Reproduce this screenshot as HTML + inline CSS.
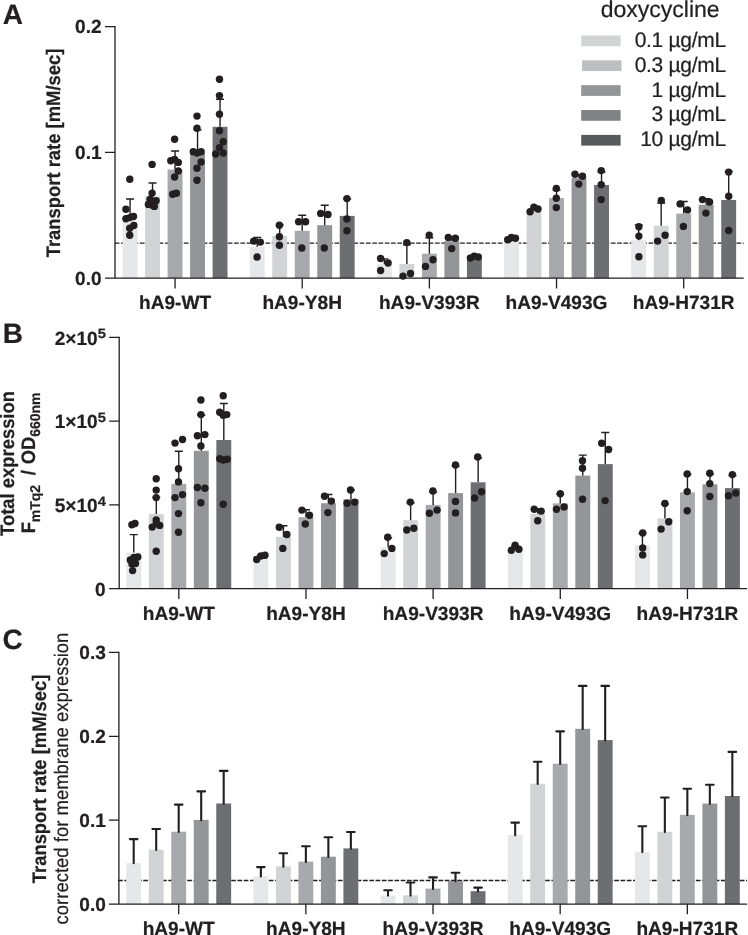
<!DOCTYPE html>
<html lang="en">
<head>
<meta charset="utf-8">
<title>Figure: transport rate and expression of hA9 variants</title>
<style>html,body{margin:0;padding:0;background:#fff}svg{display:block}text{stroke:#231f20;stroke-width:.22px;text-rendering:geometricPrecision}</style>
</head>
<body>
<svg width="748" height="935" viewBox="0 0 748 935" style="will-change:transform" stroke-linejoin="round" font-family='"Liberation Sans", sans-serif' fill="#231f20">
<rect width="748" height="935" fill="#fff"/>
<g id="panelA">
<path d="M114.75 243.1H743.7" fill="none" stroke="#231f20" stroke-width="1.35" stroke-dasharray="4.7 1.58"/>
<rect x="122.60" y="221" width="14.9" height="57.20" fill="#e6e7e8"/>
<rect x="145.10" y="196.5" width="14.9" height="81.70" fill="#d1d3d4"/>
<rect x="167.60" y="169.5" width="14.9" height="108.70" fill="#a7a9ac"/>
<rect x="190.10" y="152.5" width="14.9" height="125.70" fill="#939598"/>
<rect x="212.60" y="126.8" width="14.9" height="151.40" fill="#6d6e71"/>
<rect x="249.76" y="246.7" width="14.9" height="31.50" fill="#e6e7e8"/>
<rect x="272.26" y="235.9" width="14.9" height="42.30" fill="#d1d3d4"/>
<rect x="294.76" y="230.8" width="14.9" height="47.40" fill="#a7a9ac"/>
<rect x="317.26" y="225.2" width="14.9" height="53.00" fill="#939598"/>
<rect x="339.76" y="215.9" width="14.9" height="62.30" fill="#6d6e71"/>
<rect x="376.92" y="264.1" width="14.9" height="14.10" fill="#e6e7e8"/>
<rect x="399.42" y="264.1" width="14.9" height="14.10" fill="#d1d3d4"/>
<rect x="421.92" y="253.7" width="14.9" height="24.50" fill="#a7a9ac"/>
<rect x="444.42" y="241.1" width="14.9" height="37.10" fill="#939598"/>
<rect x="466.92" y="258.3" width="14.9" height="19.90" fill="#6d6e71"/>
<rect x="504.08" y="241.7" width="14.9" height="36.50" fill="#e6e7e8"/>
<rect x="526.58" y="210.8" width="14.9" height="67.40" fill="#d1d3d4"/>
<rect x="549.08" y="198.1" width="14.9" height="80.10" fill="#a7a9ac"/>
<rect x="571.58" y="178.1" width="14.9" height="100.10" fill="#939598"/>
<rect x="594.08" y="185" width="14.9" height="93.20" fill="#6d6e71"/>
<rect x="631.24" y="240.2" width="14.9" height="38.00" fill="#e6e7e8"/>
<rect x="653.74" y="225.8" width="14.9" height="52.40" fill="#d1d3d4"/>
<rect x="676.24" y="213.6" width="14.9" height="64.60" fill="#a7a9ac"/>
<rect x="698.74" y="204.8" width="14.9" height="73.40" fill="#939598"/>
<rect x="721.24" y="200" width="14.9" height="78.20" fill="#6d6e71"/>
<path d="M130.05 221V199M126.05 199H134.05M152.55 196.5V183M148.55 183H156.55M175.05 169.5V151M171.05 151H179.05M197.55 152.5V130M193.55 130H201.55M220.05 126.8V99.3M216.05 99.3H224.05M257.21 246.7V237.4M253.21 237.4H261.21M279.71 235.9V225M275.71 225H283.71M302.21 230.8V215.3M298.21 215.3H306.21M324.71 225.2V205.2M320.71 205.2H328.71M347.21 215.9V199M343.21 199H351.21M384.37 264.1V258.9M380.37 258.9H388.37M406.87 264.1V244.9M402.87 244.9H410.87M429.37 253.7V237.8M425.37 237.8H433.37M451.87 241.1V237.4M447.87 237.4H455.87M474.37 258.3V256.5M470.37 256.5H478.37M511.53 241.7V239M507.53 239H515.53M534.03 210.8V208M530.03 208H538.03M556.53 198.1V190M552.53 190H560.53M579.03 178.1V175M575.03 175H583.03M601.53 185V172M597.53 172H605.53M638.69 240.2V224.9M634.69 224.9H642.69M661.19 225.8V203M657.19 203H665.19M683.69 213.6V201.5M679.69 201.5H687.69M706.19 204.8V198.7M702.19 198.7H710.19M728.69 200V171.5M724.69 171.5H732.69" fill="none" stroke="#231f20" stroke-width="1.4"/>
<path d="M115.0 25.950000000000003V278.2M114.35 278.2H743.7" fill="none" stroke="#231f20" stroke-width="1.3"/>
<path d="M105.0 26.6H115.0M105.0 152.3H115.0M105.0 278.2H115.0M175.05 278.2V288.4M302.21 278.2V288.4M429.37 278.2V288.4M556.53 278.2V288.4M683.69 278.2V288.4" fill="none" stroke="#231f20" stroke-width="1.3"/>
<text x="175.05" y="309.0" text-anchor="middle" font-size="19.1" font-weight="bold">hA9-WT</text>
<text x="302.21" y="309.0" text-anchor="middle" font-size="19.1" font-weight="bold">hA9-Y8H</text>
<text x="429.37" y="309.0" text-anchor="middle" font-size="19.1" font-weight="bold">hA9-V393R</text>
<text x="556.53" y="309.0" text-anchor="middle" font-size="19.1" font-weight="bold">hA9-V493G</text>
<text x="683.69" y="309.0" text-anchor="middle" font-size="19.1" font-weight="bold">hA9-H731R</text>
<circle cx="129.8" cy="179.2" r="3.7"/>
<circle cx="125.9" cy="209.3" r="3.7"/>
<circle cx="125.9" cy="218.7" r="3.7"/>
<circle cx="133.5" cy="216.5" r="3.7"/>
<circle cx="129.8" cy="217.6" r="3.7"/>
<circle cx="133.8" cy="225.5" r="3.7"/>
<circle cx="129.7" cy="228.3" r="3.7"/>
<circle cx="129.7" cy="235.2" r="3.7"/>
<circle cx="152.1" cy="164.4" r="3.7"/>
<circle cx="152.1" cy="193.1" r="3.7"/>
<circle cx="150.1" cy="199.3" r="3.7"/>
<circle cx="156.1" cy="200.7" r="3.7"/>
<circle cx="152.3" cy="201.8" r="3.7"/>
<circle cx="148.4" cy="204.4" r="3.7"/>
<circle cx="151.6" cy="205" r="3.7"/>
<circle cx="154.4" cy="206.4" r="3.7"/>
<circle cx="174.6" cy="139.2" r="3.7"/>
<circle cx="170.8" cy="160.7" r="3.7"/>
<circle cx="174.6" cy="159.4" r="3.7"/>
<circle cx="178.3" cy="162.4" r="3.7"/>
<circle cx="178.3" cy="171" r="3.7"/>
<circle cx="174.6" cy="177" r="3.7"/>
<circle cx="172.7" cy="194.2" r="3.7"/>
<circle cx="176.4" cy="193.3" r="3.7"/>
<circle cx="197" cy="116.1" r="3.7"/>
<circle cx="197" cy="128.3" r="3.7"/>
<circle cx="193.3" cy="151.7" r="3.7"/>
<circle cx="197" cy="153" r="3.7"/>
<circle cx="201.1" cy="151.7" r="3.7"/>
<circle cx="201.1" cy="162" r="3.7"/>
<circle cx="197" cy="168.2" r="3.7"/>
<circle cx="197" cy="180.3" r="3.7"/>
<circle cx="219.5" cy="79.3" r="3.7"/>
<circle cx="219.5" cy="95.6" r="3.7"/>
<circle cx="219.5" cy="114.3" r="3.7"/>
<circle cx="219.5" cy="130.7" r="3.7"/>
<circle cx="223.2" cy="141.8" r="3.7"/>
<circle cx="219.5" cy="147.6" r="3.7"/>
<circle cx="215.7" cy="154" r="3.7"/>
<circle cx="223.2" cy="153" r="3.7"/>
<circle cx="253.7" cy="241.1" r="3.7"/>
<circle cx="260.3" cy="242.1" r="3.7"/>
<circle cx="257.1" cy="257" r="3.7"/>
<circle cx="279.4" cy="225.2" r="3.7"/>
<circle cx="279.4" cy="236.8" r="3.7"/>
<circle cx="279.4" cy="245.2" r="3.7"/>
<circle cx="298.6" cy="221.8" r="3.7"/>
<circle cx="305.6" cy="221.8" r="3.7"/>
<circle cx="301.8" cy="248" r="3.7"/>
<circle cx="320.7" cy="213.4" r="3.7"/>
<circle cx="328" cy="214.5" r="3.7"/>
<circle cx="324.3" cy="248" r="3.7"/>
<circle cx="346.9" cy="198.6" r="3.7"/>
<circle cx="346.9" cy="219" r="3.7"/>
<circle cx="346.9" cy="230.8" r="3.7"/>
<circle cx="380.6" cy="258.5" r="3.7"/>
<circle cx="388.1" cy="263" r="3.7"/>
<circle cx="380.6" cy="270.5" r="3.7"/>
<circle cx="406.8" cy="242.6" r="3.7"/>
<circle cx="410.5" cy="273.5" r="3.7"/>
<circle cx="403" cy="276.1" r="3.7"/>
<circle cx="429.2" cy="235.1" r="3.7"/>
<circle cx="433" cy="259.8" r="3.7"/>
<circle cx="425.5" cy="266.4" r="3.7"/>
<circle cx="448.3" cy="237.4" r="3.7"/>
<circle cx="455.4" cy="238.3" r="3.7"/>
<circle cx="451.7" cy="248.6" r="3.7"/>
<circle cx="470.4" cy="258" r="3.7"/>
<circle cx="474.2" cy="256.1" r="3.7"/>
<circle cx="478.3" cy="257" r="3.7"/>
<circle cx="507.7" cy="239.8" r="3.7"/>
<circle cx="511.4" cy="237.4" r="3.7"/>
<circle cx="515.5" cy="238.3" r="3.7"/>
<circle cx="530.1" cy="211.8" r="3.7"/>
<circle cx="533.9" cy="207.1" r="3.7"/>
<circle cx="538" cy="209" r="3.7"/>
<circle cx="556.3" cy="188.4" r="3.7"/>
<circle cx="556.3" cy="198.3" r="3.7"/>
<circle cx="556.3" cy="207.6" r="3.7"/>
<circle cx="575" cy="174.3" r="3.7"/>
<circle cx="582.5" cy="176.2" r="3.7"/>
<circle cx="578.8" cy="184.1" r="3.7"/>
<circle cx="601.2" cy="170.6" r="3.7"/>
<circle cx="601.2" cy="184.6" r="3.7"/>
<circle cx="601.2" cy="199.6" r="3.7"/>
<circle cx="638.9" cy="226.7" r="3.7"/>
<circle cx="638.9" cy="236.1" r="3.7"/>
<circle cx="638.9" cy="256.7" r="3.7"/>
<circle cx="661.3" cy="200.5" r="3.7"/>
<circle cx="665.1" cy="235.2" r="3.7"/>
<circle cx="657.6" cy="241.1" r="3.7"/>
<circle cx="680.1" cy="203.9" r="3.7"/>
<circle cx="687.5" cy="209.9" r="3.7"/>
<circle cx="683.4" cy="226.4" r="3.7"/>
<circle cx="702.5" cy="199.6" r="3.7"/>
<circle cx="709.6" cy="202" r="3.7"/>
<circle cx="705.9" cy="213.1" r="3.7"/>
<circle cx="728.7" cy="172.1" r="3.7"/>
<circle cx="728.7" cy="196.2" r="3.7"/>
<circle cx="728.7" cy="230.5" r="3.7"/>
<text x="101.6" y="33.300000000000004" text-anchor="end" font-size="19.1" font-weight="bold">0.2</text>
<text x="101.6" y="159.0" text-anchor="end" font-size="19.1" font-weight="bold">0.1</text>
<text x="101.6" y="284.9" text-anchor="end" font-size="19.1" font-weight="bold">0.0</text>
<text transform="translate(59.7 153) rotate(-90) scale(0.944 1)" text-anchor="middle" font-size="19.5" font-weight="bold">Transport rate [mM/sec]</text>
<text x="2.7" y="24" font-size="28" font-weight="bold">A</text>
</g>
<g id="legend">
<text x="660.2" y="16.8" text-anchor="middle" font-size="23">doxycycline</text>
<rect x="581.2" y="35.50" width="39.4" height="10.7" fill="#d1d3d4"/>
<text x="725.8" y="47.00" text-anchor="end" font-size="21" letter-spacing="-0.3">0.1 µg/mL</text>
<rect x="582.1" y="60.35" width="39.4" height="10.7" fill="#bcbec0"/>
<text x="725.8" y="71.83" text-anchor="end" font-size="21" letter-spacing="-0.3">0.3 µg/mL</text>
<rect x="581.2" y="85.20" width="39.4" height="10.7" fill="#939598"/>
<text x="725.8" y="96.66" text-anchor="end" font-size="21" letter-spacing="-0.3">1 µg/mL</text>
<rect x="581.2" y="110.05" width="39.4" height="10.7" fill="#808285"/>
<text x="725.8" y="121.49" text-anchor="end" font-size="21" letter-spacing="-0.3">3 µg/mL</text>
<rect x="581.2" y="134.90" width="39.4" height="10.7" fill="#58595b"/>
<text x="725.8" y="146.32" text-anchor="end" font-size="21" letter-spacing="-0.3">10 µg/mL</text>
</g>
<g id="panelB">
<rect x="126.35" y="552.5" width="14.9" height="36.20" fill="#e6e7e8"/>
<rect x="148.85" y="514.1" width="14.9" height="74.60" fill="#d1d3d4"/>
<rect x="171.35" y="483.8" width="14.9" height="104.90" fill="#a7a9ac"/>
<rect x="193.85" y="450.8" width="14.9" height="137.90" fill="#939598"/>
<rect x="216.35" y="440" width="14.9" height="148.70" fill="#6d6e71"/>
<rect x="253.51" y="557.8" width="14.9" height="30.90" fill="#e6e7e8"/>
<rect x="276.01" y="536.9" width="14.9" height="51.80" fill="#d1d3d4"/>
<rect x="298.51" y="517.1" width="14.9" height="71.60" fill="#a7a9ac"/>
<rect x="321.01" y="503.2" width="14.9" height="85.50" fill="#939598"/>
<rect x="343.51" y="499.4" width="14.9" height="89.30" fill="#6d6e71"/>
<rect x="380.67" y="547.3" width="14.9" height="41.40" fill="#e6e7e8"/>
<rect x="403.17" y="520.2" width="14.9" height="68.50" fill="#d1d3d4"/>
<rect x="425.67" y="504.9" width="14.9" height="83.80" fill="#a7a9ac"/>
<rect x="448.17" y="493.1" width="14.9" height="95.60" fill="#939598"/>
<rect x="470.67" y="482.3" width="14.9" height="106.40" fill="#6d6e71"/>
<rect x="507.83" y="550.3" width="14.9" height="38.40" fill="#e6e7e8"/>
<rect x="530.33" y="513.8" width="14.9" height="74.90" fill="#d1d3d4"/>
<rect x="552.83" y="503.4" width="14.9" height="85.30" fill="#a7a9ac"/>
<rect x="575.33" y="475.6" width="14.9" height="113.10" fill="#939598"/>
<rect x="597.83" y="464.1" width="14.9" height="124.60" fill="#6d6e71"/>
<rect x="634.99" y="545.1" width="14.9" height="43.60" fill="#e6e7e8"/>
<rect x="657.49" y="518.4" width="14.9" height="70.30" fill="#d1d3d4"/>
<rect x="679.99" y="492.3" width="14.9" height="96.40" fill="#a7a9ac"/>
<rect x="702.49" y="484.3" width="14.9" height="104.40" fill="#939598"/>
<rect x="724.99" y="488.1" width="14.9" height="100.60" fill="#6d6e71"/>
<path d="M133.80 552.5V534.6M129.80 534.6H137.80M156.30 514.1V497.4M152.30 497.4H160.30M178.80 483.8V451.3M174.80 451.3H182.80M201.30 450.8V415.3M197.30 415.3H205.30M223.80 440V403.5M219.80 403.5H227.80M260.96 557.8V555M256.96 555H264.96M283.46 536.9V525.8M279.46 525.8H287.46M305.96 517.1V509.8M301.96 509.8H309.96M328.46 503.2V494.5M324.46 494.5H332.46M350.96 499.4V490M346.96 490H354.96M388.12 547.3V538M384.12 538H392.12M410.62 520.2V503M406.62 503H414.62M433.12 504.9V492M429.12 492H437.12M455.62 493.1V466M451.62 466H459.62M478.12 482.3V458M474.12 458H482.12M515.28 550.3V546M511.28 546H519.28M537.78 513.8V509M533.78 509H541.78M560.28 503.4V494M556.28 494H564.28M582.78 475.6V455.1M578.78 455.1H586.78M605.28 464.1V432.5M601.28 432.5H609.28M642.44 545.1V533.5M638.44 533.5H646.44M664.94 518.4V504M660.94 504H668.94M687.44 492.3V474.5M683.44 474.5H691.44M709.94 484.3V474M705.94 474H713.94M732.44 488.1V475.5M728.44 475.5H736.44" fill="none" stroke="#231f20" stroke-width="1.4"/>
<path d="M119.2 336.65000000000003V588.7M118.55 588.7H747.1" fill="none" stroke="#231f20" stroke-width="1.3"/>
<path d="M109.2 337.3H119.2M109.2 421.1H119.2M109.2 504.9H119.2M109.2 588.7H119.2M178.80 588.7V598.9000000000001M305.96 588.7V598.9000000000001M433.12 588.7V598.9000000000001M560.28 588.7V598.9000000000001M687.44 588.7V598.9000000000001" fill="none" stroke="#231f20" stroke-width="1.3"/>
<text x="178.80" y="619.5" text-anchor="middle" font-size="19.1" font-weight="bold">hA9-WT</text>
<text x="305.96" y="619.5" text-anchor="middle" font-size="19.1" font-weight="bold">hA9-Y8H</text>
<text x="433.12" y="619.5" text-anchor="middle" font-size="19.1" font-weight="bold">hA9-V393R</text>
<text x="560.28" y="619.5" text-anchor="middle" font-size="19.1" font-weight="bold">hA9-V493G</text>
<text x="687.44" y="619.5" text-anchor="middle" font-size="19.1" font-weight="bold">hA9-H731R</text>
<circle cx="131.9" cy="524.7" r="3.7"/>
<circle cx="135" cy="523.5" r="3.7"/>
<circle cx="130.3" cy="560" r="3.7"/>
<circle cx="134" cy="557.5" r="3.7"/>
<circle cx="137.8" cy="557" r="3.7"/>
<circle cx="132" cy="564" r="3.7"/>
<circle cx="135.5" cy="563.5" r="3.7"/>
<circle cx="132.6" cy="570.6" r="3.7"/>
<circle cx="156.2" cy="478.8" r="3.7"/>
<circle cx="156.2" cy="490.1" r="3.7"/>
<circle cx="156.2" cy="497.6" r="3.7"/>
<circle cx="156.2" cy="520" r="3.7"/>
<circle cx="152.2" cy="527.1" r="3.7"/>
<circle cx="159.7" cy="525.4" r="3.7"/>
<circle cx="156.2" cy="523.5" r="3.7"/>
<circle cx="156.2" cy="551.3" r="3.7"/>
<circle cx="175" cy="443.1" r="3.7"/>
<circle cx="182.5" cy="439.5" r="3.7"/>
<circle cx="178.5" cy="468.7" r="3.7"/>
<circle cx="178.5" cy="481.9" r="3.7"/>
<circle cx="182.5" cy="494.6" r="3.7"/>
<circle cx="175" cy="497.6" r="3.7"/>
<circle cx="178.5" cy="513.6" r="3.7"/>
<circle cx="178.5" cy="532.2" r="3.7"/>
<circle cx="200.9" cy="400" r="3.7"/>
<circle cx="200.9" cy="414.6" r="3.7"/>
<circle cx="197.4" cy="435.8" r="3.7"/>
<circle cx="204.9" cy="434.6" r="3.7"/>
<circle cx="200.9" cy="445.9" r="3.7"/>
<circle cx="197.4" cy="487.5" r="3.7"/>
<circle cx="204.9" cy="488.2" r="3.7"/>
<circle cx="200.9" cy="502.8" r="3.7"/>
<circle cx="223.2" cy="395.8" r="3.7"/>
<circle cx="219.7" cy="412.2" r="3.7"/>
<circle cx="226.8" cy="414.6" r="3.7"/>
<circle cx="223.2" cy="415.3" r="3.7"/>
<circle cx="219.7" cy="458.8" r="3.7"/>
<circle cx="223.2" cy="460" r="3.7"/>
<circle cx="227.2" cy="459.3" r="3.7"/>
<circle cx="223.2" cy="504.2" r="3.7"/>
<circle cx="256.7" cy="559.5" r="3.7"/>
<circle cx="260.9" cy="556" r="3.7"/>
<circle cx="265" cy="555.3" r="3.7"/>
<circle cx="279.3" cy="527.2" r="3.7"/>
<circle cx="286.9" cy="534.5" r="3.7"/>
<circle cx="282.8" cy="548.4" r="3.7"/>
<circle cx="301.9" cy="510.1" r="3.7"/>
<circle cx="309.5" cy="515.3" r="3.7"/>
<circle cx="305.3" cy="524" r="3.7"/>
<circle cx="324.5" cy="496.2" r="3.7"/>
<circle cx="331.4" cy="501.1" r="3.7"/>
<circle cx="327.9" cy="512.6" r="3.7"/>
<circle cx="350.5" cy="490" r="3.7"/>
<circle cx="347.1" cy="503.2" r="3.7"/>
<circle cx="354.7" cy="502.1" r="3.7"/>
<circle cx="387.7" cy="537.2" r="3.7"/>
<circle cx="391.9" cy="548.4" r="3.7"/>
<circle cx="384.2" cy="553.6" r="3.7"/>
<circle cx="410.3" cy="502.1" r="3.7"/>
<circle cx="406.8" cy="530" r="3.7"/>
<circle cx="413.8" cy="528.2" r="3.7"/>
<circle cx="432.9" cy="491" r="3.7"/>
<circle cx="429.4" cy="513.3" r="3.7"/>
<circle cx="437.1" cy="510.1" r="3.7"/>
<circle cx="455.5" cy="465" r="3.7"/>
<circle cx="455.5" cy="501.4" r="3.7"/>
<circle cx="455.5" cy="512.9" r="3.7"/>
<circle cx="477.7" cy="457" r="3.7"/>
<circle cx="481.6" cy="491.7" r="3.7"/>
<circle cx="474.6" cy="498" r="3.7"/>
<circle cx="511.3" cy="550.3" r="3.7"/>
<circle cx="515.1" cy="545.1" r="3.7"/>
<circle cx="518.9" cy="549.3" r="3.7"/>
<circle cx="534.2" cy="509.3" r="3.7"/>
<circle cx="541.2" cy="511.1" r="3.7"/>
<circle cx="537.7" cy="520.8" r="3.7"/>
<circle cx="560.3" cy="493.7" r="3.7"/>
<circle cx="556.5" cy="509.3" r="3.7"/>
<circle cx="564.1" cy="506.9" r="3.7"/>
<circle cx="582.5" cy="460.7" r="3.7"/>
<circle cx="582.5" cy="468.3" r="3.7"/>
<circle cx="582.5" cy="499.2" r="3.7"/>
<circle cx="601.7" cy="443.3" r="3.7"/>
<circle cx="608.6" cy="449.5" r="3.7"/>
<circle cx="605.1" cy="500.6" r="3.7"/>
<circle cx="642.7" cy="533" r="3.7"/>
<circle cx="642.7" cy="547.9" r="3.7"/>
<circle cx="642.7" cy="554.9" r="3.7"/>
<circle cx="664.9" cy="503.4" r="3.7"/>
<circle cx="668.7" cy="521.8" r="3.7"/>
<circle cx="661.1" cy="529.1" r="3.7"/>
<circle cx="687.2" cy="473.9" r="3.7"/>
<circle cx="687.2" cy="491.6" r="3.7"/>
<circle cx="687.2" cy="510.7" r="3.7"/>
<circle cx="709.8" cy="473.2" r="3.7"/>
<circle cx="709.8" cy="483.6" r="3.7"/>
<circle cx="709.8" cy="496.5" r="3.7"/>
<circle cx="732.4" cy="474.6" r="3.7"/>
<circle cx="735.8" cy="493" r="3.7"/>
<circle cx="728.5" cy="495.8" r="3.7"/>
<text x="97.7" y="344.6" text-anchor="end" font-size="19.1" font-weight="bold">2×10</text>
<text transform="translate(97.7 338.0) scale(1.08 1)" font-size="13.6" font-weight="bold">5</text>
<text x="97.7" y="428.4" text-anchor="end" font-size="19.1" font-weight="bold">1×10</text>
<text transform="translate(97.7 421.8) scale(1.08 1)" font-size="13.6" font-weight="bold">5</text>
<text x="97.7" y="512.1" text-anchor="end" font-size="19.1" font-weight="bold">5×10</text>
<text transform="translate(97.7 505.5) scale(1.08 1)" font-size="13.6" font-weight="bold">4</text>
<text x="105.7" y="595.8" text-anchor="end" font-size="19.1" font-weight="bold">0</text>
<text transform="translate(13.7 463.5) rotate(-90) scale(0.944 1)" text-anchor="middle" font-size="19.5" font-weight="bold">Total expression</text>
<g font-weight="bold">
<text transform="translate(35.1 533.2) rotate(-90) scale(0.944 1)" font-size="19.5">F</text>
<text transform="translate(40.2 522.2) rotate(-90) scale(0.985 1)" font-size="14.2">mTq2</text>
<text transform="translate(35.1 475.3) rotate(-90) scale(0.944 1)" font-size="19.5">/</text>
<text transform="translate(35.1 464.3) rotate(-90) scale(0.944 1)" font-size="19.5">OD</text>
<text transform="translate(40.2 436.8) rotate(-90) scale(0.985 1)" font-size="14.2">660nm</text>
</g>
<text x="2.7" y="342.7" font-size="28" font-weight="bold">B</text>
</g>
<g id="panelC">
<path d="M118.1 880.5H747.1" fill="none" stroke="#231f20" stroke-width="1.35" stroke-dasharray="4.7 1.58"/>
<rect x="126.25" y="863" width="14.9" height="41.10" fill="#e6e7e8"/>
<rect x="148.75" y="849.7" width="14.9" height="54.40" fill="#d1d3d4"/>
<rect x="171.25" y="831.7" width="14.9" height="72.40" fill="#a7a9ac"/>
<rect x="193.75" y="819.9" width="14.9" height="84.20" fill="#939598"/>
<rect x="216.25" y="803.5" width="14.9" height="100.60" fill="#6d6e71"/>
<rect x="253.41" y="876.2" width="14.9" height="27.90" fill="#e6e7e8"/>
<rect x="275.91" y="866.4" width="14.9" height="37.70" fill="#d1d3d4"/>
<rect x="298.41" y="861.6" width="14.9" height="42.50" fill="#a7a9ac"/>
<rect x="320.91" y="856.7" width="14.9" height="47.40" fill="#939598"/>
<rect x="343.41" y="848.4" width="14.9" height="55.70" fill="#6d6e71"/>
<rect x="380.57" y="895.3" width="14.9" height="8.80" fill="#e6e7e8"/>
<rect x="403.07" y="895.3" width="14.9" height="8.80" fill="#d1d3d4"/>
<rect x="425.57" y="888.6" width="14.9" height="15.50" fill="#a7a9ac"/>
<rect x="448.07" y="881" width="14.9" height="23.10" fill="#939598"/>
<rect x="470.57" y="891.2" width="14.9" height="12.90" fill="#6d6e71"/>
<rect x="507.73" y="834.9" width="14.9" height="69.20" fill="#e6e7e8"/>
<rect x="530.23" y="783.7" width="14.9" height="120.40" fill="#d1d3d4"/>
<rect x="552.73" y="763.7" width="14.9" height="140.40" fill="#a7a9ac"/>
<rect x="575.23" y="728.8" width="14.9" height="175.30" fill="#939598"/>
<rect x="597.73" y="740.1" width="14.9" height="164.00" fill="#6d6e71"/>
<rect x="634.89" y="851.8" width="14.9" height="52.30" fill="#e6e7e8"/>
<rect x="657.39" y="831.8" width="14.9" height="72.30" fill="#d1d3d4"/>
<rect x="679.89" y="814.9" width="14.9" height="89.20" fill="#a7a9ac"/>
<rect x="702.39" y="803.6" width="14.9" height="100.50" fill="#939598"/>
<rect x="724.89" y="796" width="14.9" height="108.10" fill="#6d6e71"/>
<path d="M133.70 863.3V839.1M129.90 839.1H137.50M156.20 850.0V829M152.40 829H160.00M178.70 832.0V804.6M174.90 804.6H182.50M201.20 820.1999999999999V791.4M197.40 791.4H205.00M223.70 803.8V770.9M219.90 770.9H227.50M260.86 876.5V867.1M257.06 867.1H264.66M283.36 866.6999999999999V853.2M279.56 853.2H287.16M305.86 861.9V846.3M302.06 846.3H309.66M328.36 857.0V837.2M324.56 837.2H332.16M350.86 848.6999999999999V832M347.06 832H354.66M388.02 895.5999999999999V890.2M384.22 890.2H391.82M410.52 895.5999999999999V882.5M406.72 882.5H414.32M433.02 888.9V877.4M429.22 877.4H436.82M455.52 881.3V872.8M451.72 872.8H459.32M478.02 891.5V887.6M474.22 887.6H481.82M515.18 835.1999999999999V822.6M511.38 822.6H518.98M537.68 784.0V761.7M533.88 761.7H541.48M560.18 764.0V731.4M556.38 731.4H563.98M582.68 729.0999999999999V685.9M578.88 685.9H586.48M605.18 740.4V685.9M601.38 685.9H608.98M642.34 852.0999999999999V826.2M638.54 826.2H646.14M664.84 832.0999999999999V797.5M661.04 797.5H668.64M687.34 815.1999999999999V788.8M683.54 788.8H691.14M709.84 803.9V784.7M706.04 784.7H713.64M732.34 796.3V751.9M728.54 751.9H736.14" fill="none" stroke="#231f20" stroke-width="2.1" stroke-linecap="round"/>
<path d="M118.9 651.75V904.1M118.25 904.1H747.1" fill="none" stroke="#231f20" stroke-width="1.3"/>
<path d="M108.9 652.4H118.9M108.9 736.3H118.9M108.9 820.2H118.9M108.9 904.1H118.9M178.70 904.1V914.3000000000001M305.86 904.1V914.3000000000001M433.02 904.1V914.3000000000001M560.18 904.1V914.3000000000001M687.34 904.1V914.3000000000001" fill="none" stroke="#231f20" stroke-width="1.3"/>
<text x="178.70" y="934.9" text-anchor="middle" font-size="19.1" font-weight="bold">hA9-WT</text>
<text x="305.86" y="934.9" text-anchor="middle" font-size="19.1" font-weight="bold">hA9-Y8H</text>
<text x="433.02" y="934.9" text-anchor="middle" font-size="19.1" font-weight="bold">hA9-V393R</text>
<text x="560.18" y="934.9" text-anchor="middle" font-size="19.1" font-weight="bold">hA9-V493G</text>
<text x="687.34" y="934.9" text-anchor="middle" font-size="19.1" font-weight="bold">hA9-H731R</text>
<text x="105.9" y="659.1" text-anchor="end" font-size="19.1" font-weight="bold">0.3</text>
<text x="105.9" y="743.0" text-anchor="end" font-size="19.1" font-weight="bold">0.2</text>
<text x="105.9" y="826.9000000000001" text-anchor="end" font-size="19.1" font-weight="bold">0.1</text>
<text x="105.9" y="910.8000000000001" text-anchor="end" font-size="19.1" font-weight="bold">0.0</text>
<text transform="translate(46.3 778.9) rotate(-90) scale(0.944 1)" text-anchor="middle" font-size="19.5" font-weight="bold">Transport rate [mM/sec]</text>
<text transform="translate(68 778.5) rotate(-90) scale(0.948 1)" text-anchor="middle" font-size="19.5">corrected for membrane expression</text>
<text x="2.4" y="649.4" font-size="28" font-weight="bold">C</text>
</g>
</svg>
</body>
</html>
